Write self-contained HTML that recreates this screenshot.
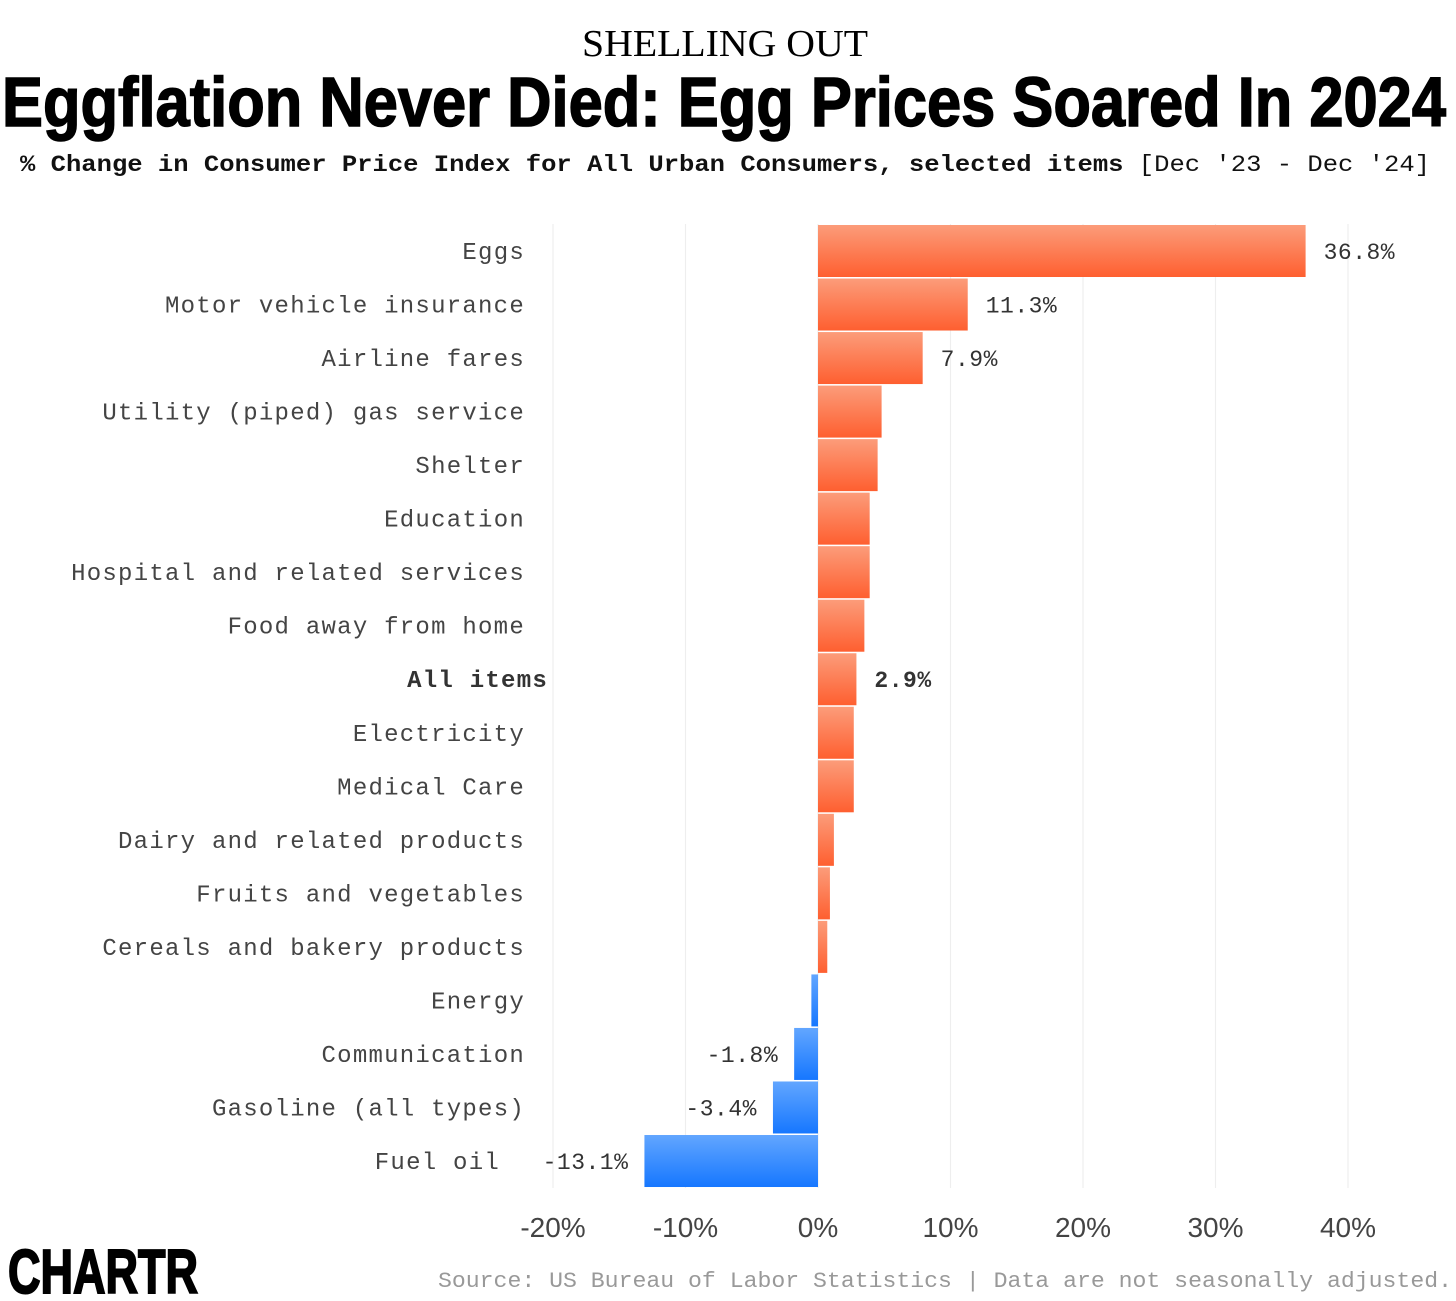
<!DOCTYPE html>
<html><head><meta charset="utf-8"><style>
html,body{margin:0;padding:0;background:#fff;}
svg{display:block;}
</style></head><body>
<svg id="chart" width="1456" height="1301" viewBox="0 0 1456 1301" xmlns="http://www.w3.org/2000/svg">
<defs>
<linearGradient id="gPos" x1="0" y1="0" x2="0" y2="1"><stop offset="0" stop-color="#fc9c7a"/><stop offset="1" stop-color="#fe5f30"/></linearGradient>
<linearGradient id="gNeg" x1="0" y1="0" x2="0" y2="1"><stop offset="0" stop-color="#62a6ff"/><stop offset="1" stop-color="#1677ff"/></linearGradient>
</defs>
<text x="725" y="56" text-anchor="middle" font-family="Liberation Serif, serif" font-size="38" fill="#000" textLength="286" lengthAdjust="spacingAndGlyphs">SHELLING OUT</text>
<text x="2" y="126" font-family="Liberation Sans, sans-serif" font-weight="bold" font-size="70" fill="#000" stroke="#000" stroke-width="1.5" textLength="1444" lengthAdjust="spacingAndGlyphs">Eggflation Never Died: Egg Prices Soared In 2024</text>
<text x="20" y="171" font-family="Liberation Mono, monospace" font-size="23" fill="#111" textLength="1410" lengthAdjust="spacingAndGlyphs"><tspan font-weight="bold">% Change in Consumer Price Index for All Urban Consumers, selected items</tspan> [Dec '23 - Dec '24]</text>
<g id="grid"></g>
<g id="bars"></g>
<g id="labels"></g>
<g id="xaxis"></g>
<text x="8" y="1293" font-family="Liberation Sans, sans-serif" font-weight="bold" font-size="62" fill="#000" stroke="#000" stroke-width="2" textLength="190" lengthAdjust="spacingAndGlyphs">CHARTR</text>
<text x="438" y="1287" font-family="Liberation Mono, monospace" font-size="22" fill="#999" textLength="1014" lengthAdjust="spacingAndGlyphs">Source: US Bureau of Labor Statistics | Data are not seasonally adjusted.</text>
</svg>
<script>
const categories = ["Eggs","Motor vehicle insurance","Airline fares","Utility (piped) gas service","Shelter","Education","Hospital and related services","Food away from home","All items","Electricity","Medical Care","Dairy and related products","Fruits and vegetables","Cereals and bakery products","Energy","Communication","Gasoline (all types)","Fuel oil"];
const values = [36.8,11.3,7.9,4.8,4.5,3.9,3.9,3.5,2.9,2.7,2.7,1.2,0.9,0.7,-0.5,-1.8,-3.4,-13.1];
const shownLabels = ["36.8%","11.3%","7.9%","","","","","","2.9%","","","","","","","-1.8%","-3.4%","-13.1%"];
const ticks = [-20,-10,0,10,20,30,40];
const tickLabels = ["-20%","-10%","0%","10%","20%","30%","40%"];

const NS="http://www.w3.org/2000/svg";
const x = v => 818 + v*13.25;
const rowY = i => 251 + i*53.53;
const bandH = 52;
function mk(tag, attrs, parent, txt){const e=document.createElementNS(NS,tag);for(const k in attrs)e.setAttribute(k,attrs[k]);if(txt!==undefined)e.textContent=txt;parent.appendChild(e);return e;}
const grid=document.getElementById('grid'), bars=document.getElementById('bars'), labels=document.getElementById('labels'), xaxis=document.getElementById('xaxis');
ticks.forEach((t,i)=>{
  const l=mk('line',{x1:x(t),x2:x(t),y1:224,y2:1188,stroke:'#eeeeee','stroke-width':1.2},grid);
  
  
  const tx=mk('text',{x:x(t),y:1237,'text-anchor':'middle','font-family':'Liberation Sans, sans-serif','font-size':28,fill:'#444'},xaxis,tickLabels[i]);
  
  
});
categories.forEach((c,i)=>{
  const v=values[i], cy=rowY(i);
  const x0=Math.min(x(0),x(v)), w=Math.abs(x(v)-x(0));
  const r=mk('rect',{x:x0,y:cy-bandH/2,width:w,height:bandH,fill:v>=0?'url(#gPos)':'url(#gNeg)'},bars);
  
  
  const bold=c==="All items";
  const lx=bold?548:(c==="Fuel oil"?500:525);
  const lt=mk('text',{x:lx,y:cy+8,'text-anchor':'end','font-family':'Liberation Mono, monospace','font-size':24,'letter-spacing':1.25,fill:bold?'#333':'#444','font-weight':bold?'bold':'normal'},labels,c);
  
  
  if(shownLabels[i]){
    const vx = v>=0 ? x(v)+18 : x(v)-16;
    const vt=mk('text',{x:vx,y:cy+8,'text-anchor':v>=0?'start':'end','font-family':'Liberation Mono, monospace','font-size':23,'letter-spacing':0.5,fill:'#333','font-weight':bold?'bold':'normal'},bars,shownLabels[i]);
    
    
  }
});
</script>
</body></html>
